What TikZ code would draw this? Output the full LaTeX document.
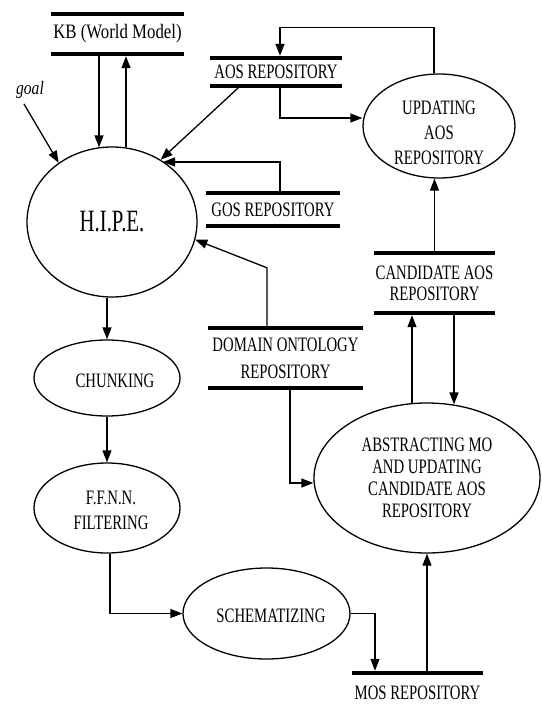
\documentclass[tikz,border=0pt]{standalone}
\usepackage{fontspec}
\setmainfont{Liberation Serif}
\newfontfamily\dfd[FakeStretch=0.72]{Liberation Serif}
\newfontfamily\dfdw[FakeStretch=0.82]{Liberation Serif}
\newfontfamily\dfdh[FakeStretch=0.67]{Liberation Serif}
\usetikzlibrary{shapes.geometric,arrows.meta,calc}
\begin{document}
\begin{tikzpicture}[x=1pt,y=-1pt,
  proc/.style={ellipse,draw,line width=1.3pt,inner sep=0pt,align=center},
  repo/.style={rectangle,inner sep=0pt,align=center},
  lbl/.style={inner sep=0pt,align=center},
  bar/.style={line width=4pt},
  arr/.style={line width=1.3pt,-{Triangle[length=12pt,width=9pt]}},
  txt/.style={font=\dfd\fontsize{20.5}{22}\selectfont}
]
\useasboundingbox (0,0) rectangle (541,704);

% repositories
\node[repo,minimum width=133pt,minimum height=40pt,font=\dfdw\fontsize{20.5}{22}\selectfont] (kb) at (117.5,34) {KB (World Model)};
\node[repo,minimum width=132pt,minimum height=28pt,txt] (aos) at (276,72) {AOS REPOSITORY};
\node[repo,minimum width=134pt,minimum height=33pt,txt] (gos) at (273,209.5) {GOS REPOSITORY};
\node[repo,minimum width=155pt,minimum height=60pt,font=\dfd\fontsize{20.5}{27}\selectfont] (dom) at (285.5,358) {DOMAIN ONTOLOGY\\REPOSITORY};
\node[repo,minimum width=121pt,minimum height=60pt,font=\dfd\fontsize{20.5}{21}\selectfont] (cand) at (434.5,283) {CANDIDATE AOS\\REPOSITORY};
\node[repo,minimum width=131pt,minimum height=40pt,txt] (mos) at (417.5,693) {MOS REPOSITORY};

\foreach \n in {kb,aos,gos,dom,cand}{
  \draw[bar] (\n.north west) -- (\n.north east) (\n.south west) -- (\n.south east);
}
\draw[bar] (mos.north west) -- (mos.north east);

% processes
\node[proc,minimum width=170pt,minimum height=150pt,font=\dfdh\fontsize{31}{33}\selectfont] (hipe) at (112,222) {H.I.P.E.};
\node[proc,minimum width=152pt,minimum height=104pt] (upd) at (439,126) {};
\node[lbl,font=\dfd\fontsize{20.5}{25}\selectfont] (updt) at (439,133) {UPDATING\\AOS\\REPOSITORY};
\node[proc,minimum width=146pt,minimum height=76pt] (chunk) at (107,378) {};
\node[lbl,txt] (chunkt) at (115,381) {CHUNKING};
\node[proc,minimum width=146pt,minimum height=90pt] (ffnn) at (107,508) {};
\node[lbl,font=\dfd\fontsize{20.5}{25}\selectfont] (ffnnt) at (111,510) {F.F.N.N.\\FILTERING};
\node[proc,minimum width=167pt,minimum height=91pt] (schem) at (266.5,613.5) {};
\node[lbl,txt] (schemt) at (271,616) {SCHEMATIZING};
\node[proc,minimum width=226pt,minimum height=150pt,font=\dfd\fontsize{20.5}{22}\selectfont] (abs) at (427,478) {ABSTRACTING MO\\AND UPDATING\\CANDIDATE AOS\\REPOSITORY};

\node[font=\dfdw\itshape\fontsize{19}{20}\selectfont] (goal) at (30,90) {goal};

% connectors
\draw[arr] ([shift={(-6,14)}]goal.center) -- (hipe.132);
\draw[arr] ([shift={(-18.5,0)}]kb.south) -- ([shift={(-13,1)}]hipe.north);
\draw[arr,shorten >=2pt] ([shift={(14,1)}]hipe.north) -- ([shift={(8.5,0)}]kb.south);
\draw[arr] ([shift={(-36,0)}]aos.south) -- (hipe.52);
\draw[arr] ([shift={(7,0)}]gos.north) |- ([shift={(51,-60)}]hipe.center);
\draw[arr] ([shift={(-18.5,0)}]dom.north) -- ++(0,-60) -- (hipe.-12);

\draw[arr,shorten >=2pt] ([shift={(-5,0)}]upd.north) -- ++(0,-46) -| ([shift={(4,0)}]aos.north);
\draw[arr] ([shift={(4,0)}]aos.south) |- ([shift={(0,-8)}]upd.west);
\draw[arr] (cand.north) -- (cand.north |- upd.south);

\draw[arr,shorten >=2pt] ([shift={(-15,1)}]abs.north) -- ([shift={(-22.5,0)}]cand.south);
\draw[arr] ([shift={(19.5,0)}]cand.south) -- ([shift={(27,2)}]abs.north);
\draw[arr] ([shift={(4.5,0)}]dom.south) |- ([shift={(0,5)}]abs.west);

\draw[arr] (hipe.south -| chunk.north) -- (chunk.north);
\draw[arr] (chunk.south) -- (ffnn.north);
\draw[arr] ([shift={(3,0)}]ffnn.south) |- (schem.west);
\draw[arr,shorten >=2pt] (schem.east) -| ([shift={(-42.5,0)}]mos.north);
\draw[arr] ([shift={(9.5,0)}]mos.north) -- (abs.south);
\end{tikzpicture}
\end{document}
